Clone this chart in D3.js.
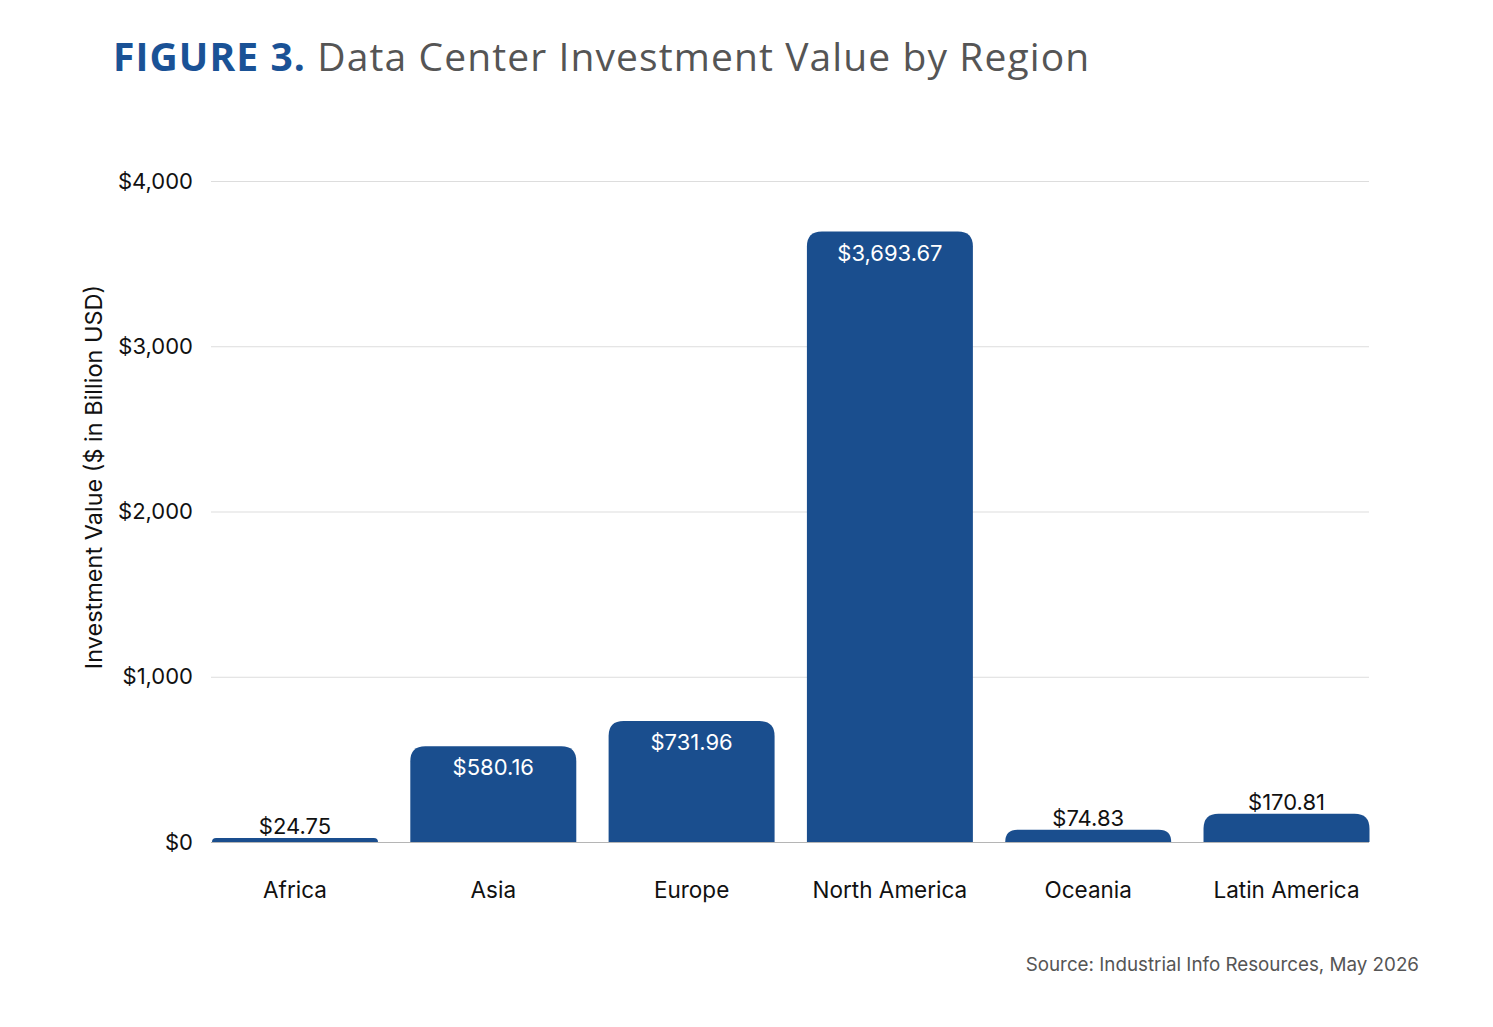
<!DOCTYPE html>
<html>
<head>
<meta charset="utf-8">
<script src="https://cdn.jsdelivr.net/npm/d3@7"></script>
<style>
  body { margin: 0; background: #fff; }
  text { font-family: Inter, "Liberation Sans", sans-serif; }
</style>
</head>
<body>
<div id="chart"></div>
<script>
const regions = ["Africa", "Asia", "Europe", "North America", "Oceania", "Latin America"];
const investment = [24.75, 580.16, 731.96, 3693.67, 74.83, 170.81];
const yTicks = [0, 1000, 2000, 3000, 4000];

const width = 1493, height = 1027;
const svg = d3.select("#chart").append("svg")
    .attr("width", width)
    .attr("height", height);

const x = d3.scaleBand()
    .domain(regions)
    .range([212, 1369.5])
    .paddingInner(0.163)
    .paddingOuter(0);

const y = d3.scaleLinear()
    .domain([0, 4000])
    .range([842, 181]);

const fmt = d3.format(",.2f");
const blue = "#1a4e8e";

// title
const title = svg.append("text")
    .attr("x", 113)
    .attr("y", 71)
    .style("font-family", "'Open Sans', sans-serif")
    .style("font-size", "39px")
    .style("letter-spacing", "1.1px");
title.append("tspan")
    .attr("font-weight", 700)
    .attr("fill", "#1a5296")
    .text("FIGURE 3.");
title.append("tspan")
    .attr("fill", "#555")
    .attr("font-weight", 400)
    .text(" Data Center Investment Value by Region");

// gridlines
svg.append("g")
    .selectAll("line")
    .data(yTicks)
    .join("line")
    .attr("x1", 211)
    .attr("x2", 1369)
    .attr("y1", d => y(d) + 0.5)
    .attr("y2", d => y(d) + 0.5)
    .attr("stroke", d => d === 0 ? "#b5b5b5" : "#dddddd")
    .attr("stroke-width", 1.2);

// y axis labels
const yAxis = d3.axisLeft(y)
    .tickValues(yTicks)
    .tickSize(0)
    .tickPadding(0)
    .tickFormat(d => "$" + d3.format(",")(d));
svg.append("g")
    .attr("transform", "translate(193,0)")
    .call(yAxis)
    .call(g => g.select(".domain").remove())
    .selectAll("text")
    .attr("fill", "#111")
    .style("font-size", "22px")
    .style("font-family", "Inter, sans-serif");

// y axis title
svg.append("text")
    .attr("transform", "translate(102,477) rotate(-90)")
    .attr("text-anchor", "middle")
    .attr("fill", "#111")
    .style("font-size", "23.5px")
    .text("Investment Value ($ in Billion USD)");

// bars with rounded top corners
function barPath(d, i) {
  const x0 = x(regions[i]), w = x.bandwidth();
  const y0 = y(0), y1 = y(d);
  const r = Math.min(15, y0 - y1, w / 2);
  return `M${x0},${y0}V${y1 + r}Q${x0},${y1} ${x0 + r},${y1}H${x0 + w - r}Q${x0 + w},${y1} ${x0 + w},${y1 + r}V${y0}Z`;
}

svg.append("g")
    .selectAll("path")
    .data(investment)
    .join("path")
    .attr("d", barPath)
    .attr("fill", blue);

// value labels
svg.append("g")
    .selectAll("text")
    .data(investment)
    .join("text")
    .attr("x", (d, i) => x(regions[i]) + x.bandwidth() / 2)
    .attr("y", d => (y(0) - y(d) > 60) ? y(d) + 29 : y(d) - 4)
    .attr("text-anchor", "middle")
    .attr("fill", d => (y(0) - y(d) > 60) ? "#fff" : "#111")
    .style("font-size", "22px")
    .text(d => "$" + fmt(d));

// x axis labels
const xAxis = d3.axisBottom(x).tickSize(0).tickPadding(0);
svg.append("g")
    .attr("transform", "translate(0,898)")
    .call(xAxis)
    .call(g => g.select(".domain").remove())
    .selectAll("text")
    .attr("dy", 0)
    .attr("fill", "#111")
    .style("font-size", "22.5px")
    .style("font-family", "Inter, sans-serif");

// source
svg.append("text")
    .attr("x", 1419)
    .attr("y", 971)
    .attr("text-anchor", "end")
    .attr("fill", "#555")
    .style("font-size", "18.8px")
    .text("Source: Industrial Info Resources, May 2026");
</script>
</body>
</html>
